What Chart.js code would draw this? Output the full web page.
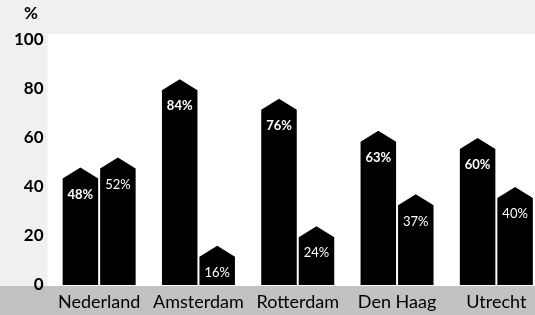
<!DOCTYPE html>
<html>
<head>
<meta charset="utf-8">
<script src="https://cdn.jsdelivr.net/npm/chart.js@4"></script>
<style>
  html, body { margin: 0; padding: 0; background: #fff; overflow: hidden; }
  canvas { display: block; }
</style>
</head>
<body>
<canvas id="chart" width="550" height="315"></canvas>
<script>
const cities = ["Nederland", "Amsterdam", "Rotterdam", "Den Haag", "Utrecht"];
const seriesA = [48, 84, 76, 63, 60];
const seriesB = [52, 16, 24, 37, 40];
const yTicks = [0, 20, 40, 60, 80, 100];

const FONT = "Lato, 'Open Sans', sans-serif";

// paper tone of the scan: lighter at the top, darker band under the bars
const paper = {
  id: "paper",
  beforeDraw(chart) {
    const { ctx, chartArea } = chart;
    ctx.save();
    ctx.fillStyle = "#fff";
    ctx.fillRect(0, 0, chart.width, chart.height);
    ctx.fillStyle = "#f0f0f0";
    ctx.fillRect(0, 0, chart.width, chartArea.top - 6);
    ctx.fillRect(0, 0, chartArea.left - 2, chart.height);
    ctx.fillStyle = "#c2c2c2";
    ctx.fillRect(0, chartArea.bottom + 1, chart.width, chart.height - chartArea.bottom);
    ctx.restore();
  }
};

// bars drawn as house shapes, value label in white inside
const houses = {
  id: "houses",
  afterDatasetsDraw(chart) {
    const { ctx } = chart;
    ctx.save();
    chart.data.datasets.forEach((ds, i) => {
      chart.getDatasetMeta(i).data.forEach((bar, j) => {
        const { x, y, base, width } = bar.getProps(["x", "y", "base", "width"], true);
        const l = x - width / 2, r = x + width / 2;
        ctx.fillStyle = "#000";
        ctx.beginPath();
        ctx.moveTo(l, base);
        ctx.lineTo(l, y + 11);
        ctx.lineTo(x, y);
        ctx.lineTo(r, y + 11);
        ctx.lineTo(r, base);
        ctx.closePath();
        ctx.fill();
        ctx.fillStyle = "#fff";
        ctx.font = (i === 0 ? "bold " : "") + "13px " + FONT;
        ctx.textAlign = "center";
        ctx.textBaseline = "middle";
        ctx.fillText(ds.data[j] + "%", x, y + 27);
      });
    });
    // unit label above the y axis
    ctx.fillStyle = "#000";
    ctx.font = "bold 17px " + FONT;
    ctx.textAlign = "center";
    ctx.textBaseline = "middle";
    ctx.fillText("%", 31, 14);
    ctx.restore();
  }
};

new Chart(document.getElementById("chart"), {
  type: "bar",
  data: {
    labels: cities,
    datasets: [
      { data: seriesA, backgroundColor: "rgba(0,0,0,0)" },
      { data: seriesB, backgroundColor: "rgba(0,0,0,0)" }
    ]
  },
  options: {
    responsive: false,
    animation: false,
    events: [],
    layout: { padding: { top: 40, right: 4, bottom: 0, left: 0 } },
    categoryPercentage: 0.755,
    barPercentage: 0.947,
    plugins: { legend: { display: false }, tooltip: { enabled: false }, title: { display: false } },
    scales: {
      x: {
        grid: { display: false, drawTicks: false },
        border: { display: false },
        ticks: { color: "#000", font: { family: FONT, size: 18 }, padding: 6, maxRotation: 0, autoSkip: false },
        afterFit(scale) { scale.height = 30; }
      },
      y: {
        min: 0,
        max: 100,
        afterBuildTicks(scale) { scale.ticks = yTicks.map(v => ({ value: v })); },
        grid: { display: false, drawTicks: false },
        border: { display: false },
        ticks: { color: "#000", font: { family: FONT, size: 17, weight: "bold" }, padding: 6 },
        afterFit(scale) { scale.width = 49.5; }
      }
    }
  },
  plugins: [paper, houses]
});
</script>
</body>
</html>
